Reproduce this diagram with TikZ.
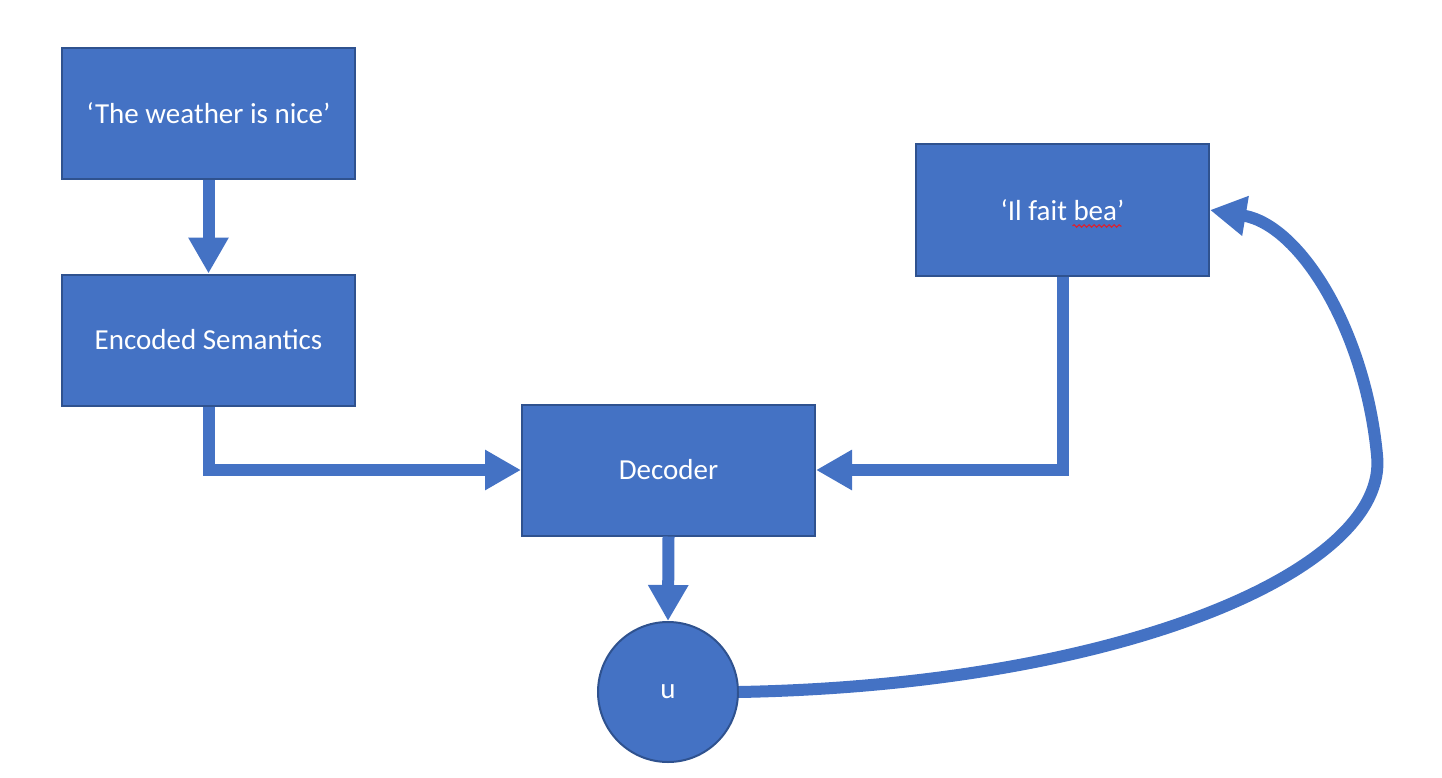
\documentclass[tikz,border=0pt]{standalone}
\usepackage{fontspec}
\setmainfont{Carlito}
\usetikzlibrary{arrows.meta,decorations.pathmorphing}
\definecolor{boxfill}{HTML}{4472C4}
\definecolor{boxline}{HTML}{2F528F}
\definecolor{squig}{HTML}{E0202A}
\tikzset{
  blockbox/.style={draw=boxline, fill=boxfill, line width=2pt, minimum width=293pt, minimum height=131pt, inner sep=0pt, text=white, font=\fontsize{29}{34}\selectfont},
  roundbox/.style={draw=boxline, fill=boxfill, line width=2pt, circle, minimum size=140pt, inner sep=0pt, text=white, font=\fontsize{29}{34}\selectfont},
  flow/.style={draw=boxfill, line width=12pt, line join=miter, -{Triangle[length=36pt,width=38pt]}},
}
\begin{document}
\begin{tikzpicture}[x=1pt,y=-1pt]
\useasboundingbox (0,0) rectangle (1442,778);
\node[blockbox] (b1) at (208.5,113.5) {‘The weather is nice’};
\node[blockbox] (b2) at (208.5,340) {Encoded Semantics};
\node[blockbox] (dec) at (668.5,470) {Decoder};
\node[blockbox] (b4) at (1062.5,210) {‘Il fait bea’};
\node[roundbox] (u) at (668,692) {u};
\draw[squig, line width=1pt, decorate, decoration={snake, amplitude=1.3pt, segment length=5pt}] ([xshift=10pt,yshift=-16pt]b4.center) -- ([xshift=59pt,yshift=-16pt]b4.center);
\draw[flow] (b1.south) -- (b2.north);
\draw[flow] (b2.south) |- (dec.west);
\draw[flow] (b4.south) |- (dec.east);
\draw[flow] (dec.south) -- (u.north);
\draw[flow] (u.east) .. controls (1120,685) and (1390,570) .. (1377,455)
  .. controls (1365,330) and (1300,225) .. (b4.east);
\end{tikzpicture}
\end{document}
